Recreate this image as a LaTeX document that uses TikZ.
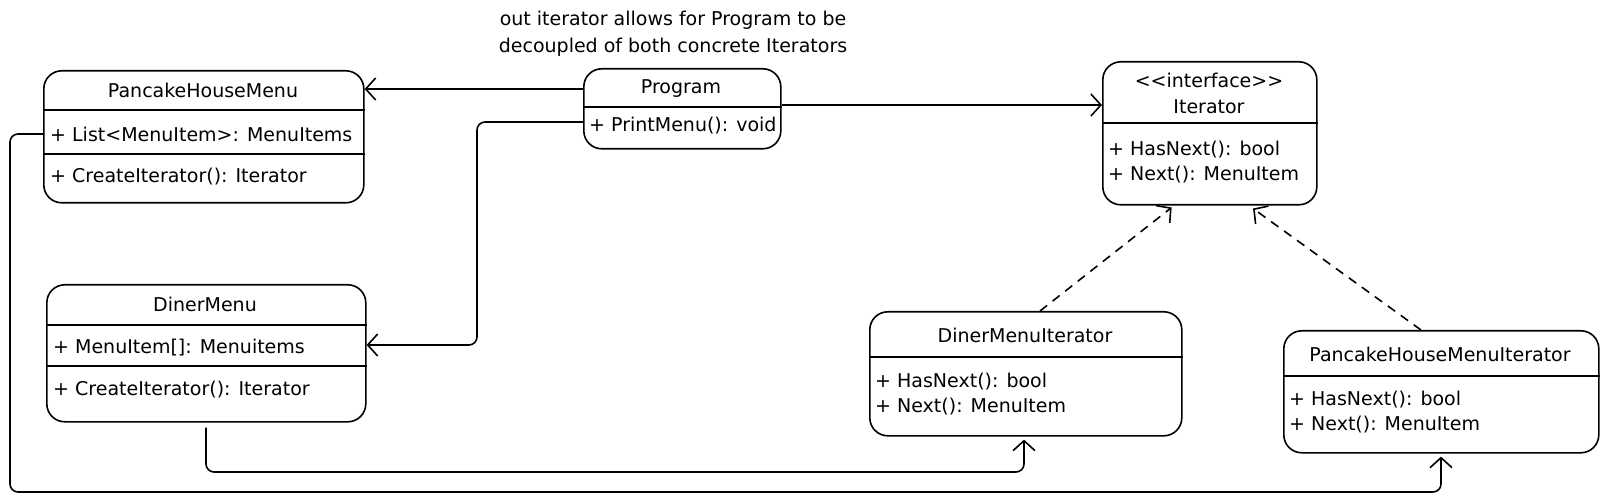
\documentclass[tikz,border=0pt]{standalone}
\usepackage{fontspec}
\setmainfont[Ligatures=TeXOff]{DejaVu Sans}
\usetikzlibrary{arrows.meta}
\tikzset{
  box/.style={draw, line width=1.6pt, rounded corners=18pt, anchor=north west, inner sep=0pt},
  div/.style={line width=2.6pt},
  txt/.style={font=\fontsize{19}{23}\selectfont, inner sep=0pt},
  conn/.style={line width=1.6pt, -{Straight Barb[length=10pt,width=22pt,line width=1.6pt]}, rounded corners=8pt},
  dconn/.style={conn, dash pattern=on 9pt off 7pt},
}
\begin{document}
\begin{tikzpicture}[x=1pt,y=-1pt]
\useasboundingbox (0,0) rectangle (1606,502);
% annotation
\node[txt, align=center] (note) at (673,34) {out iterator allows for Program to be\\[4pt]decoupled of both concrete Iterators};

% PancakeHouseMenu
\node[box, minimum width=320pt, minimum height=132pt] (phm) at (43,70) {};
\draw[div] (phm.west |- 0,110) -- (phm.east |- 0,110);
\draw[div] (phm.west |- 0,154) -- (phm.east |- 0,154);
\node[txt] (phmt) at (203,90) {PancakeHouseMenu};
\node[txt, anchor=west] (phm1) at (50,134) {+ List<MenuItem>: MenuItems};
\node[txt, anchor=west] (phm2) at (50,177) {+ CreateIterator(): Iterator};

% Program
\node[box, minimum width=197pt, minimum height=80pt] (prog) at (583,68) {};
\draw[div] (prog.west |- 0,107) -- (prog.east |- 0,107);
\node[txt] (progt) at (681,89) {Program};
\node[txt, anchor=west] (prog1) at (589,126) {+ PrintMenu(): void};

% Iterator
\node[box, minimum width=214pt, minimum height=143pt] (it) at (1102,61) {};
\draw[div] (it.west |- 0,123) -- (it.east |- 0,123);
\node[txt, align=center] (itt) at (1209,93) {<<interface>>\\[3pt]Iterator};
\node[txt, anchor=west] (it1) at (1108,150) {+ HasNext(): bool};
\node[txt, anchor=west] (it2) at (1108,175) {+ Next(): MenuItem};

% DinerMenu
\node[box, minimum width=319pt, minimum height=137pt] (dm) at (46,284) {};
\draw[div] (dm.west |- 0,325) -- (dm.east |- 0,325);
\draw[div] (dm.west |- 0,366) -- (dm.east |- 0,366);
\node[txt] (dmt) at (205,304) {DinerMenu};
\node[txt, anchor=west] (dm1) at (53,348) {+ MenuItem[]: Menuitems};
\node[txt, anchor=west] (dm2) at (53,390) {+ CreateIterator(): Iterator};

% DinerMenuIterator
\node[box, minimum width=312pt, minimum height=124pt] (dmi) at (869,311) {};
\draw[div] (dmi.west |- 0,357) -- (dmi.east |- 0,357);
\node[txt] (dmit) at (1025,335) {DinerMenuIterator};
\node[txt, anchor=west] (dmi1) at (875,382) {+ HasNext(): bool};
\node[txt, anchor=west] (dmi2) at (875,407) {+ Next(): MenuItem};

% PancakeHouseMenuIterator
\node[box, minimum width=315pt, minimum height=122pt] (phmi) at (1283,330) {};
\draw[div] (phmi.west |- 0,376) -- (phmi.east |- 0,376);
\node[txt] (phmit) at (1440,354) {PancakeHouseMenuIterator};
\node[txt, anchor=west] (phmi1) at (1289,400) {+ HasNext(): bool};
\node[txt, anchor=west] (phmi2) at (1289,425) {+ Next(): MenuItem};

% connectors
\draw[conn] (prog.west |- 0,89) -- (phm.east |- 0,89);
\draw[conn] (prog.east |- 0,105) -- (it.west |- 0,105);
\draw[conn] (prog.west |- 0,122) -- (477,122) -- (477,345) -- (dm.east |- 0,345);
\draw[dconn, shorten >=3pt] (dmi.north -| 1040,0) -- (it.south -| 1174,0);
\draw[dconn, shorten >=5pt] (phmi.north -| 1421,0) -- (it.south -| 1249,0);
\draw[conn, shorten <=5pt, shorten >=3pt] (dm.south -| 206,0) -- (206,472) -- (1024,472) -- (dmi.south -| 1024,0);
\draw[conn, shorten >=3pt] (phm.west |- 0,134) -- (10,134) -- (10,492) -- (1441,492) -- (phmi.south -| 1441,0);
\end{tikzpicture}
\end{document}
